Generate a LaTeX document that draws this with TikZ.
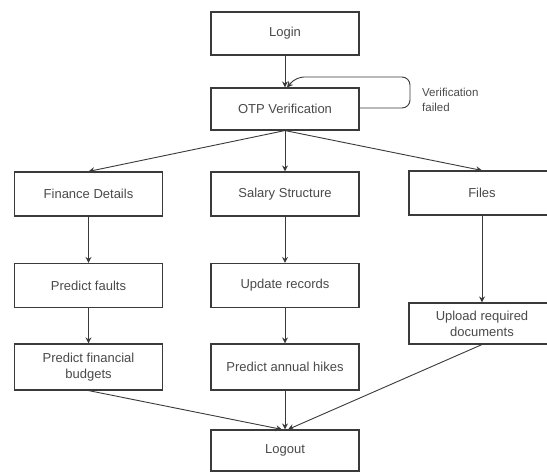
\documentclass[tikz,border=0pt]{standalone}
\usepackage{fontspec}
\setmainfont{Liberation Sans}
\usetikzlibrary{arrows.meta}
\definecolor{ln}{HTML}{3A3A3A}
\definecolor{tx}{HTML}{4A4A4A}
\tikzset{
  box/.style={draw=ln, line width=1.1pt, fill=white, minimum width=148pt, minimum height=44pt,
    align=center, text=tx, font=\fontsize{13}{16}\selectfont, inner sep=2pt},
  conn/.style={draw=ln, line width=0.9pt, -{Stealth[length=6pt,width=6pt]}},
}
\begin{document}
\begin{tikzpicture}[x=1pt,y=-1pt]
\clip (0,0) rectangle (547,472);
\fill[white] (0,0) rectangle (547,472);
\node[box, minimum height=43pt] (login) at (285,33.5) {Login};
\node[box, minimum height=42pt] (otp) at (285,109) {OTP Verification};
\node[box] (fin) at (88.5,194) {Finance Details};
\node[box] (sal) at (285,194) {Salary Structure};
\node[box, minimum width=146pt] (files) at (482,193) {Files};
\node[box] (pf) at (88.5,285.5) {Predict faults};
\node[box] (ur) at (285,285.5) {Update records};
\node[box, minimum width=146pt, minimum height=41pt] (up) at (482,323.5) {Upload required\\documents};
\node[box, minimum height=46pt] (pfb) at (88.5,367) {Predict financial\\budgets};
\node[box, minimum height=46pt] (pah) at (285,367) {Predict annual hikes};
\node[box, minimum height=41pt] (logout) at (285,450.5) {Logout};
\node[anchor=west, align=left, text=tx, font=\fontsize{11.5}{15}\selectfont, inner sep=0pt] (vf) at (422,100) {Verification\\failed};
\coordinate (lp1) at (410,108);
\coordinate (lp2) at (410,77);
\coordinate (lp3) at (296,77);
\draw[conn] (login.south) -- (otp.north);
\draw[conn, rounded corners=8pt] (otp.east |- lp1) -- (lp1) -- (lp2) -- (lp3) -- ([xshift=2pt]otp.north);
\draw[conn] (otp.south) -- (fin.north);
\draw[conn] (otp.south) -- (sal.north);
\draw[conn] (otp.south) -- (files.north);
\draw[conn] (fin) -- (pf);
\draw[conn] (sal) -- (ur);
\draw[conn] (files) -- (up);
\draw[conn] (pf) -- (pfb);
\draw[conn] (ur) -- (pah);
\draw[conn] (pfb.south) -- ([xshift=-3pt]logout.north);
\draw[conn] (pah.south) -- (logout.north);
\draw[conn] (up.south) -- ([xshift=3pt]logout.north);
\end{tikzpicture}
\end{document}
